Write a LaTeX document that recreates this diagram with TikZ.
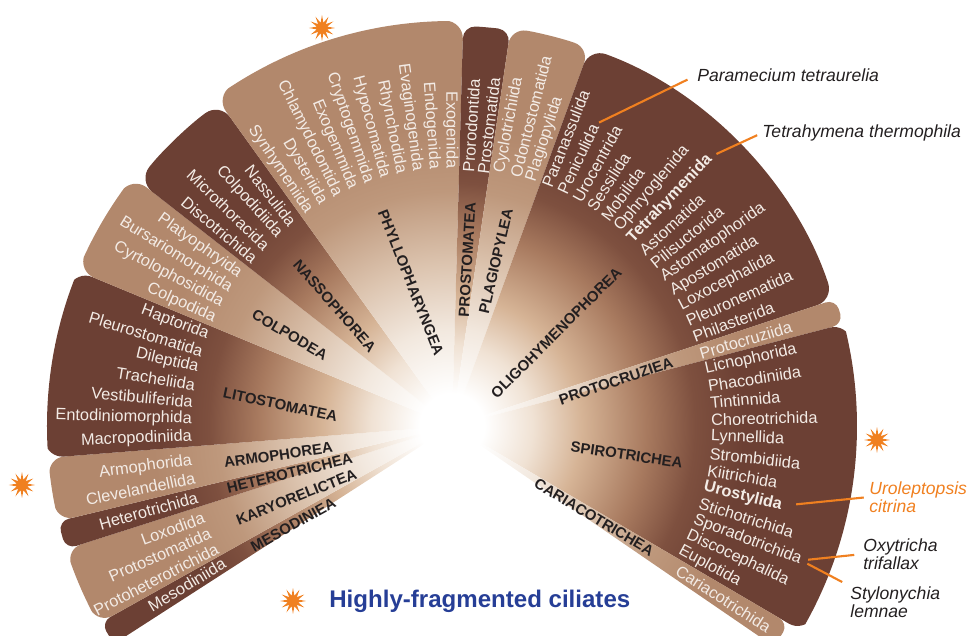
\documentclass[tikz,border=0pt]{standalone}
\usepackage{fontspec}
\setmainfont{Liberation Sans}
\usetikzlibrary{shapes.geometric,calc}
\definecolor{darkbrown}{RGB}{108,64,52}
\definecolor{lightbrown}{RGB}{178,136,108}
\definecolor{dkA}{RGB}{240,226,212}
\definecolor{dkB}{RGB}{214,180,150}
\definecolor{dkC}{RGB}{168,122,95}
\definecolor{dkD}{RGB}{126,80,63}
\definecolor{ltA}{RGB}{242,232,222}
\definecolor{ltB}{RGB}{220,196,175}
\definecolor{ltC}{RGB}{190,152,124}
\definecolor{ordertext}{RGB}{243,235,229}
\definecolor{classtext}{RGB}{35,31,32}
\definecolor{burstorange}{RGB}{240,128,32}
\definecolor{titleblue}{RGB}{38,62,150}
\pgfdeclareradialshading{darkfan}{\pgfpointorigin}{color(0bp)=(white); color(2bp)=(white); color(5bp)=(dkA); color(8bp)=(dkB); color(12bp)=(dkC); color(15bp)=(dkD); color(18bp)=(darkbrown); color(50bp)=(darkbrown)}
\pgfdeclareradialshading{lightfan}{\pgfpointorigin}{color(0bp)=(white); color(2bp)=(white); color(6bp)=(ltA); color(10bp)=(ltB); color(14.5bp)=(ltC); color(18.5bp)=(lightbrown); color(50bp)=(lightbrown)}

\begin{document}
\begin{tikzpicture}[x=0.02cm,y=0.02cm]

\tikzset{order/.style={font=\fontsize{9.3}{10}\selectfont,text=ordertext,inner sep=0pt},
inward/.style={order,anchor=east},
outward/.style={order,anchor=west},
classlbl/.style={font=\bfseries\fontsize{8.5}{9}\selectfont,text=classtext,inner sep=0pt},
species/.style={font=\itshape\fontsize{10}{10.3}\selectfont,text=classtext,align=left,anchor=west,inner sep=0pt},
burst/.style={star,star points=12,star point ratio=2.4,fill=burstorange,inner sep=0pt,minimum size=0.52cm},
pointer/.style={burstorange,line width=1.2pt}}

\useasboundingbox (-452,-210) rectangle (516,426);
\coordinate (C) at (0,0);

% Fan sectors
\foreach \a/\b/\R/\rc/\fan in {209.2/212.8/402/6pt/darkfan, 197.7/209.2/405/9pt/lightfan,
  193.6/197.7/405/6pt/darkfan, 184.5/193.6/405/9pt/lightfan, 157.5/184.5/407/10pt/darkfan,
  142/157.5/405/10pt/lightfan, 125.7/142/398/10pt/darkfan, 88.4/125.7/405/10pt/lightfan,
  81.6/88.4/400/7pt/darkfan, 70/81.6/402/9pt/lightfan, 18.3/70/402/10pt/darkfan,
  14.6/18.3/404/6pt/lightfan, -30.4/14.6/408/10pt/darkfan, -34.4/-30.4/390/6pt/lightfan}{
\begin{scope}
\clip[rounded corners=\rc] (C) -- (\a:\R) arc[start angle=\a,end angle=\b,radius=\R] -- cycle;
\shade[shading=\fan] (C) circle (405);
\end{scope}}

% Orders, left half (read towards the centre)
\node[inward,rotate=30.9] (mes1) at (210.9:265) {Mesodiniida};
\foreach \ord [count=\i,evaluate=\i as \a using 200.2+3.6*(\i-1)] in {Loxodida,Protostomatida,Protoheterotrichida}
  \node[inward,rotate=\a-180] (kar\i) at (\a:264) {\ord};
\node[inward,rotate=15.6] (het1) at (195.6:264) {Heterotrichida};
\foreach \ord [count=\i,evaluate=\i as \a using 187.6+3.8*(\i-1)] in {Armophorida,Clevelandellida}
  \node[inward,rotate=\a-180] (arm\i) at (\a:262) {\ord};
\foreach \ord [count=\i,evaluate=\i as \a using 159.5+3.8*(\i-1)] in {Haptorida,Pleurostomatida,Dileptida,Tracheliida,Vestibuliferida,Entodiniomorphida,Macropodiniida}
  \node[inward,rotate=\a-180] (lit\i) at (\a:260) {\ord};
\foreach \ord [count=\i,evaluate=\i as \a using 144.5+3.7*(\i-1)] in {Platyophryida,Bursariomorphida,Cyrtolophosidida,Colpodida}
  \node[inward,rotate=\a-180] (col\i) at (\a:260) {\ord};
\foreach \ord [count=\i,evaluate=\i as \a using 128.2+3.9*(\i-1)] in {Nassulida,Colpodidiida,Microthoracida,Discotrichida}
  \node[inward,rotate=\a-180] (nas\i) at (\a:257) {\ord};
\foreach \ord [count=\i,evaluate=\i as \a using 123.8-3.73*(\i-1)] in {Synhymeniida,Dysteriida,Chlamydodontida,Exogemmida,Cryptogemmida,Hypocomatida,Rhynchodida,Evaginogenida,Endogenida,Exogenida}
  \node[inward,rotate=\a-180] (phy\i) at (\a:257) {\ord};

% Orders, right half (read outwards)
\foreach \ord [count=\i,evaluate=\i as \a using 86.3-3.3*(\i-1)] in {Prorodontida,Prostomatida}
  \node[outward,rotate=\a] (pro\i) at (\a:254) {\ord};
\foreach \ord [count=\i,evaluate=\i as \a using 79.3-3.6*(\i-1)] in {Cyclotrichiida,Odontostomatida,Plagiopylida}
  \node[outward,rotate=\a] (pla\i) at (\a:257) {\ord};
\foreach \ord [count=\i,evaluate=\i as \a using 68.4-3.7*(\i-1)] in {Paranassulida,Peniculida,Urocentrida,Sessilida,Mobilida,Ophryoglenida,\textbf{Tetrahymenida},Astomatida,Pilisuctorida,Astomatophorida,Apostomatida,Loxocephalida,Pleuronematida,Philasterida}
  \node[outward,rotate=\a] (oli\i) at (\a:257) {\ord};
\node[outward,rotate=16.3] (ptc1) at (16.3:258) {Protocruziida};
\foreach \ord [count=\i,evaluate=\i as \a using 12.6-3.74*(\i-1)] in {Licnophorida,Phacodiniida,Tintinnida,Choreotrichida,Lynnellida,Strombidiida,Kiitrichida,\textbf{Urostylida},Stichotrichida,Sporadotrichida,Discocephalida,Euplotida}
  \node[outward,rotate=\a] (spi\i) at (\a:259) {\ord};
\node[outward,rotate=-32.5] (car1) at (-32.5:267) {Cariacotrichida};

% Class labels
\node[classlbl,rotate=-68.5] (cphy) at (106:149) {PHYLLOPHARYNGEA};
\node[classlbl,rotate=-48.9] (cnas) at (134.3:168) {NASSOPHOREA};
\node[classlbl,rotate=-30.7] (ccol) at (150.7:186) {COLPODEA};
\node[classlbl,rotate=-11.9] (clit) at (173:173) {LITOSTOMATEA};
\node[classlbl,rotate=8.1] (carm) at (189.5:176) {ARMOPHOREA};
\node[classlbl,rotate=13.5] (chet) at (196.2:169) {HETEROTRICHEA};
\node[classlbl,rotate=21.7] (ckar) at (204.5:171) {KARYORELICTEA};
\node[classlbl,rotate=29] (cmes) at (211.9:187) {MESODINIEA};
\node[classlbl,rotate=86.5] (cpro) at (84.8:167) {PROSTOMATEA};
\node[classlbl,rotate=76.8] (cpla) at (75.1:171) {PLAGIOPYLEA};
\node[classlbl,rotate=45] (coli) at (41.8:140) {OLIGOHYMENOPHOREA};
\node[classlbl,rotate=18.6] (cptc) at (15.3:170) {PROTOCRUZIEA};
\node[classlbl,rotate=-8.2] (cspi) at (-9.4:177) {SPIROTRICHEA};
\node[classlbl,rotate=-30.9] (ccar) at (-32.7:169) {CARIACOTRICHEA};

% Sequenced species
\node[species] (para) at (245,351) {Paramecium tetraurelia};
\node[species] (tetra) at (310,293) {Tetrahymena thermophila};
\node[species,text=burstorange] (urol) at (417,-71) {Uroleptopsis\\citrina};
\node[species] (oxy) at (411,-128) {Oxytricha\\trifallax};
\node[species] (styl) at (398,-176) {Stylonychia\\lemnae};

\draw[pointer,shorten <=3pt,shorten >=6pt] (oli2.east) -- (para.west);
\draw[pointer,shorten <=4pt,shorten >=3pt] (oli7.east) -- (tetra.west);
\draw[pointer,shorten <=8pt,shorten >=3pt] (spi8.east) -- (urol.west);
\draw[pointer,shorten <=4pt,shorten >=5pt] (spi10.east) -- (oxy.west);
\draw[pointer,shorten <=4pt,shorten >=5pt] (spi10.east) -- (styl.north west);

% Highly-fragmented markers
\node[burst] (b1) at (-130,398) {};
\node[burst] (b2) at (425,-14) {};
\node[burst] (b3) at (-430,-59) {};
\node[burst] (b4) at (-159,-175) {};
\node[anchor=west,inner sep=0pt,text=titleblue,font=\bfseries\fontsize{13.7}{15}\selectfont] (title) at (-123,-175) {Highly-fragmented ciliates};

\end{tikzpicture}
\end{document}
